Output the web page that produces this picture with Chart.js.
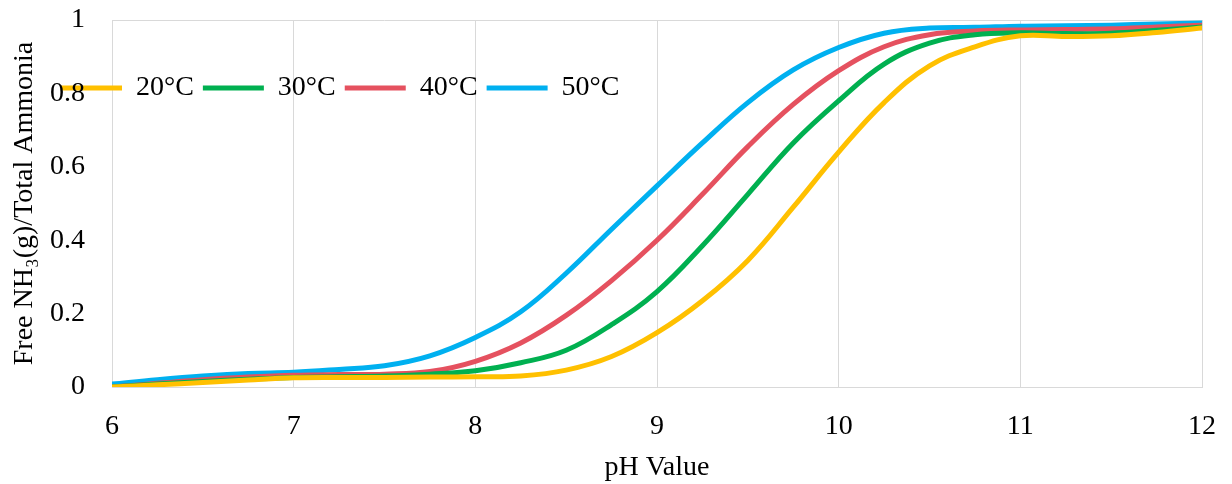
<!DOCTYPE html>
<html>
<head>
<meta charset="utf-8">
<script src="https://cdn.jsdelivr.net/npm/chart.js@4.4.1/dist/chart.umd.min.js"></script>
<style>
  html, body { margin: 0; padding: 0; background: #fff; }
  #wrap { width: 1232px; height: 484px; }
</style>
</head>
<body>
<div id="wrap"><canvas id="grafica"></canvas></div>
<script>
// datos (cada 0.25 de pH)
const phValues = [6, 6.25, 6.5, 6.75, 7, 7.25, 7.5, 7.75, 8, 8.25, 8.5, 8.75, 9, 9.25, 9.5, 9.75, 10, 10.25, 10.5, 10.75, 11, 11.25, 11.5, 11.75, 12];
const temp20 = [0, 0.006, 0.012, 0.019, 0.025, 0.026, 0.026, 0.027, 0.028, 0.03, 0.046, 0.083, 0.148, 0.235, 0.345, 0.49, 0.64, 0.775, 0.875, 0.927, 0.957, 0.955, 0.957, 0.966, 0.978];
const temp30 = [0, 0.008, 0.015, 0.021, 0.026, 0.028, 0.03, 0.035, 0.044, 0.066, 0.10, 0.17, 0.26, 0.385, 0.525, 0.665, 0.78, 0.88, 0.937, 0.96, 0.965, 0.963, 0.964, 0.972, 0.981];
const temp40 = [0, 0.01, 0.02, 0.027, 0.032, 0.034, 0.035, 0.042, 0.07, 0.12, 0.195, 0.29, 0.40, 0.525, 0.655, 0.77, 0.862, 0.927, 0.96, 0.97, 0.973, 0.974, 0.976, 0.981, 0.986];
const temp50 = [0.008, 0.02, 0.03, 0.037, 0.04, 0.048, 0.058, 0.085, 0.135, 0.205, 0.31, 0.43, 0.548, 0.665, 0.775, 0.864, 0.925, 0.964, 0.978, 0.98, 0.983, 0.984, 0.986, 0.989, 0.992];
const seriesNames = ['20°C', '30°C', '40°C', '50°C'];
const seriesColors = ['#FFC000', '#00B050', '#E5515F', '#00B0F0'];
const xTitle = 'pH Value';
const yTitle = 'Free NH₃(g)/Total Ammonia';

const gridColor = '#D9D9D9';
Chart.defaults.font.family = "'Liberation Serif', 'Times New Roman', serif";
Chart.defaults.color = '#000';

function serie(valores, i) {
    return {
        label: seriesNames[i],
        data: phValues.map((x, k) => ({ x: x, y: valores[k] })),
        borderColor: seriesColors[i],
        backgroundColor: seriesColors[i],
        borderWidth: 5,
        borderCapStyle: 'round',
        pointRadius: 0,
        tension: 0.4,
        fill: false
    };
}

// leyenda en una fila, dentro del area del grafico
const moverLeyenda = {
    id: 'moverLeyenda',
    afterInit(chart) {
        chart.legend.isHorizontal = () => true;
    },
    afterLayout(chart) {
        const lg = chart.legend;
        const pad = lg.options.labels.padding;
        lg.left = 61 - pad;
        lg.top = 74 - pad;
        lg.bottom = lg.top + lg.height;
    }
};

new Chart(document.getElementById('grafica'), {
    type: 'line',
    data: {
        datasets: [serie(temp20, 0), serie(temp30, 1), serie(temp40, 2), serie(temp50, 3)]
    },
    options: {
        responsive: true,
        maintainAspectRatio: false,
        animation: false,
        layout: { padding: { left: 6, right: 30, top: 20, bottom: 0 } },
        plugins: {
            legend: {
                position: 'chartArea',
                align: 'start',
                fullSize: false,
                labels: {
                    usePointStyle: true,
                    pointStyle: 'line',
                    pointStyleWidth: 61,
                    padding: 9,
                    font: { size: 28 }
                }
            },
            tooltip: { enabled: false }
        },
        scales: {
            x: {
                type: 'linear',
                min: 6,
                max: 12,
                afterFit: scale => {
                    scale.height = 97;
                    scale.paddingLeft = 0;
                    scale.paddingRight = 0;
                },
                ticks: { stepSize: 1, padding: 23, font: { size: 28 } },
                grid: { color: gridColor, drawTicks: false },
                border: { color: gridColor },
                title: { display: true, text: xTitle, font: { size: 28 }, padding: { top: 0, bottom: 0 } }
            },
            y: {
                min: 0,
                max: 1,
                afterFit: scale => {
                    scale.width = 106;
                    scale.paddingTop = 0;
                    scale.paddingBottom = 0;
                },
                ticks: {
                    stepSize: 0.2,
                    padding: 27,
                    font: { size: 28 },
                    callback: v => String(Math.round(v * 10) / 10)
                },
                grid: {
                    drawTicks: false,
                    color: ctx => (ctx.tick && (ctx.tick.value === 0 || ctx.tick.value === 1)) ? gridColor : 'rgba(0,0,0,0)'
                },
                border: { display: false },
                title: { display: true, text: yTitle, font: { size: 28 }, padding: { top: 2, bottom: 0 } }
            }
        }
    },
    plugins: [moverLeyenda]
});
</script>
</body>
</html>
